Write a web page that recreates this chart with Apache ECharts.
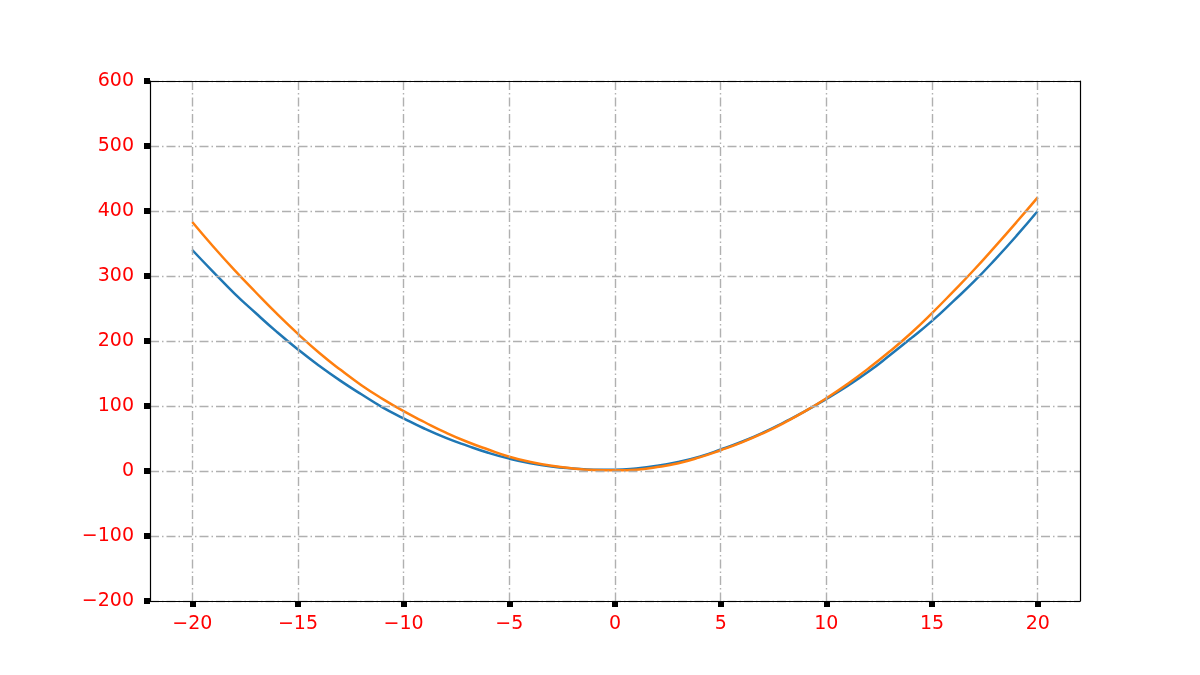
<!DOCTYPE html>
<html>
<head>
<meta charset="utf-8">
<script src="https://cdn.jsdelivr.net/npm/echarts@6/dist/echarts.min.js"></script>
<style>
  html, body { margin: 0; padding: 0; background: #fff; }
  #main { width: 1200px; height: 675px; }
</style>
</head>
<body>
<div id="main"></div>
<script>
// sample points, x = -20 .. 20 step 1
var xs = [-20, -19, -18, -17, -16, -15, -14, -13, -12, -11, -10, -9, -8, -7, -6, -5, -4, -3, -2, -1,
          0, 1, 2, 3, 4, 5, 6, 7, 8, 9, 10, 11, 12, 13, 14, 15, 16, 17, 18, 19, 20];
var blueVals = [340, 306, 273, 243, 214, 187, 162, 139, 118, 98, 81, 65, 51, 39, 28, 19, 12, 7, 4, 2,
                2, 4, 8, 14, 22, 33, 45, 59, 75, 92, 111, 131, 153, 178, 204, 231, 261, 292, 326, 362, 400];
var orangeVals = [383, 345, 309, 275, 242, 211, 182, 156, 132, 111, 92, 75, 59, 45, 33, 22, 14, 8, 4, 1.5,
                  1, 2, 6, 12, 21, 32, 44, 58, 74, 92, 112, 134, 158, 184, 212, 243, 276, 310, 346, 383, 421];
var xTicks = [-20, -15, -10, -5, 0, 5, 10, 15, 20];

var dom = document.getElementById('main');
var myChart = echarts.init(dom, null, {renderer: 'canvas'});

function pairs(vals) {
    return xs.map(function (x, i) { return [x, vals[i]]; });
}
function minusFmt(v) {
    return String(v).replace('-', '\u2212');
}

var gridLine = {
    show: true,
    lineStyle: {color: '#b0b0b0', width: 1.4, type: [9, 3, 1.5, 3]}
};
var blackLine = {show: true, onZero: false, lineStyle: {color: '#000', width: 1.2}};

var option = {
    backgroundColor: '#fff',
    animation: false,
    grid: {
        left: 150, right: 120, top: 81, bottom: 74
    },
    xAxis: [{
        type: 'value',
        min: -22,
        max: 22,
        axisLine: blackLine,
        axisTick: {show: true, length: 6, customValues: xTicks, lineStyle: {color: '#000', width: 6}},
        axisLabel: {
            customValues: xTicks,
            color: '#ff0000', fontSize: 19, fontFamily: 'DejaVu Sans', margin: 14,
            formatter: minusFmt
        },
        splitLine: gridLine,
        z: 5
    }, {
        // top spine
        type: 'value',
        position: 'top',
        min: -22,
        max: 22,
        axisLine: blackLine,
        axisTick: {show: false},
        axisLabel: {show: false},
        splitLine: {show: false},
        z: 5
    }],
    yAxis: [{
        type: 'value',
        min: -200,
        max: 600,
        interval: 100,
        axisLine: blackLine,
        axisTick: {show: true, length: 6, lineStyle: {color: '#000', width: 6}},
        axisLabel: {
            color: '#ff0000', fontSize: 19, fontFamily: 'DejaVu Sans', margin: 16,
            formatter: minusFmt
        },
        splitLine: gridLine,
        z: 5
    }, {
        // right spine
        type: 'value',
        position: 'right',
        min: -200,
        max: 600,
        interval: 100,
        axisLine: blackLine,
        axisTick: {show: false},
        axisLabel: {show: false},
        splitLine: {show: false},
        z: 5
    }],
    series: [{
        type: 'line',
        data: pairs(blueVals),
        smooth: true,
        showSymbol: false,
        lineStyle: {color: '#1f77b4', width: 2.5},
        z: 3
    }, {
        type: 'line',
        data: pairs(orangeVals),
        smooth: true,
        showSymbol: false,
        lineStyle: {color: '#ff7f0e', width: 2.5},
        z: 4
    }]
};
myChart.setOption(option);
</script>
</body>
</html>
